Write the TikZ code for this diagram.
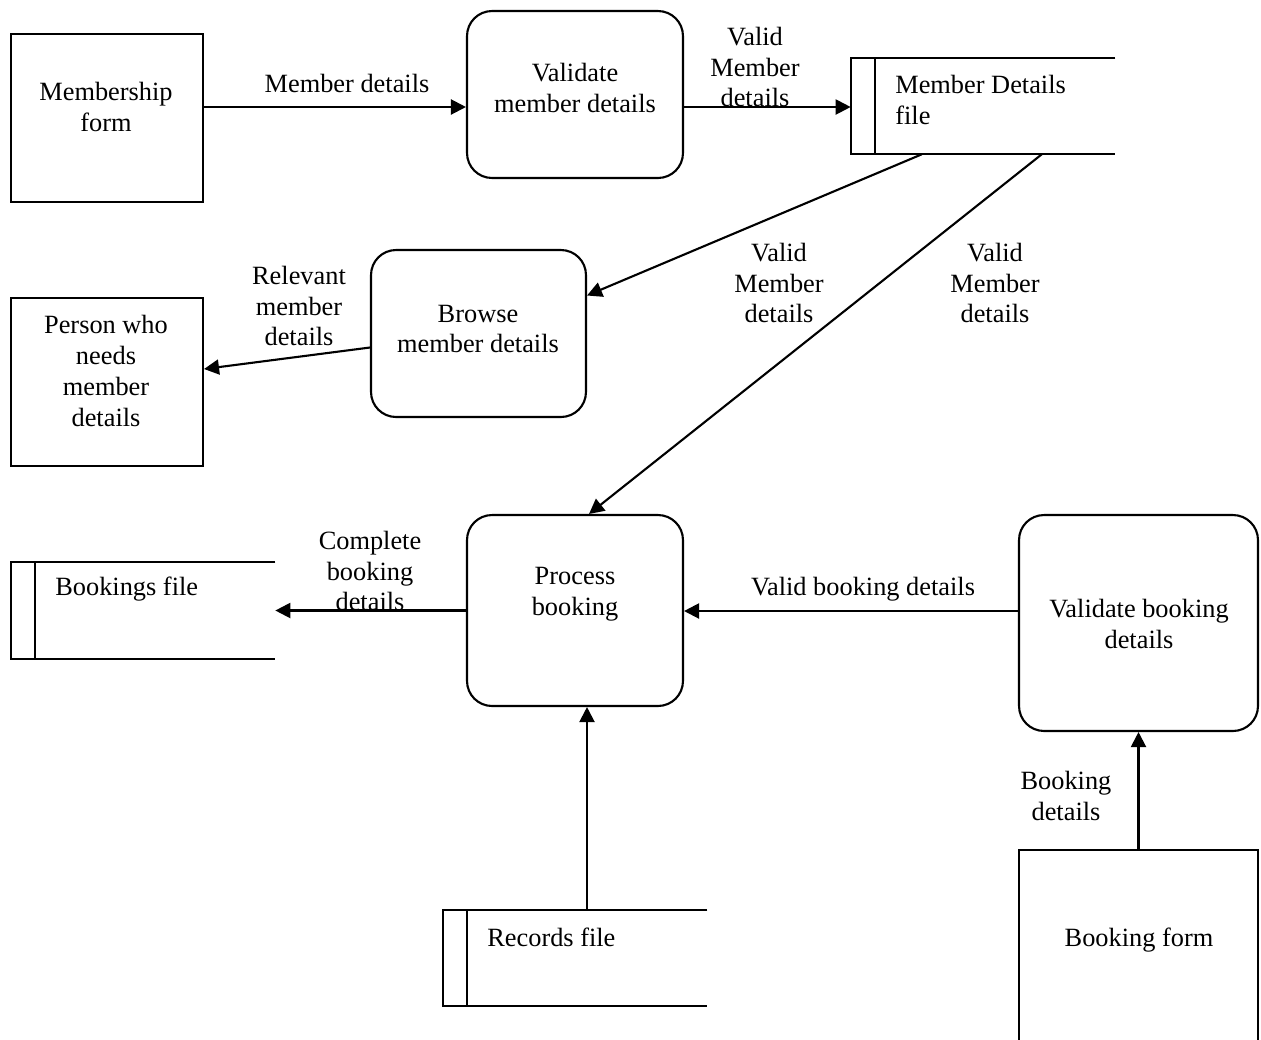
\documentclass[tikz,border=0pt]{standalone}
\usepackage{fontspec}
\setmainfont{Liberation Serif}
\usetikzlibrary{arrows.meta,calc}
\tikzset{
  ln/.style={line width=1.2pt},
  flow/.style={ln,-{Triangle[length=0.3cm,width=0.3cm]}},
  entity/.style={draw,ln,rectangle,inner sep=0pt},
  proc/.style={draw,ln,rectangle,rounded corners=0.5cm,inner sep=0pt},
  store/.style={rectangle,inner sep=0pt,minimum width=5.28cm,minimum height=1.92cm},
  txt/.style={inner sep=0pt,align=center,font=\fontsize{15}{17.6}\selectfont},
  ltxt/.style={txt,align=left,anchor=west},
}
\begin{document}
\begin{tikzpicture}[x=0.02cm,y=-0.02cm]
\clip (0,0) rectangle (1261,1039);
\fill[white] (0,0) rectangle (1261,1039);
% entities and processes
\node[entity,minimum width=3.84cm,minimum height=3.36cm] (mform) at (107,118) {};
\node[proc,minimum width=4.32cm,minimum height=3.34cm] (vmd) at (575,94.5) {};
\node[proc,minimum width=4.30cm,minimum height=3.34cm] (bmd) at (478.5,333.5) {};
\node[entity,minimum width=3.84cm,minimum height=3.36cm] (person) at (107,382) {};
\node[proc,minimum width=4.32cm,minimum height=3.82cm] (pb) at (575,610.5) {};
\node[proc,minimum width=4.78cm,minimum height=4.32cm] (vbd) at (1138.5,623) {};
\node[entity,minimum width=4.78cm,minimum height=4.2cm] (bform) at (1138.5,955) {};
% data stores
\node[store] (mdf) at (983,106) {};
\node[store] (bkf) at (143,610.5) {};
\node[store] (rcf) at (575,958) {};
\foreach \s in {mdf,bkf,rcf}{
  \draw[ln] (\s.north east) -- (\s.north west) -- (\s.south west) -- (\s.south east);
  \draw[ln] ($(\s.north west)+(24,0)$) -- ($(\s.south west)+(24,0)$);
}
% texts in shapes
\node[txt] (tmform) at (106,107) {Membership\\form};
\node[txt] (tvmd) at (575,88) {Validate\\member details};
\node[ltxt] (tmdf) at (895,100) {Member Details\\file};
\node[txt] (tbmd) at (478,329) {Browse\\member details};
\node[txt] (tperson) at (106,371) {Person who\\needs\\member\\details};
\node[txt] (tpb) at (575,594) {Process\\booking};
\node[ltxt] (tbkf) at (55,589) {Bookings file};
\node[txt] (tvbd) at (1139,624) {Validate booking\\details};
\node[ltxt] (trcf) at (487,937) {Records file};
\node[txt] (tbform) at (1139,940) {Booking form};
% connectors
\coordinate (a1) at ($(mform.east)+(0,-11)$);
\draw[flow] (a1) -- (a1 -| vmd.west);
\coordinate (a2) at ($(vmd.east)+(0,12.5)$);
\draw[flow] (a2) -- (a2 -| mdf.west);
\draw[flow] ($(mdf.south west)+(71,0)$) -- ($(bmd.east)+(0,-38)$);
\draw[flow] ($(mdf.south west)+(191,0)$) -- ($(pb.north)+(14,0)$);
\draw[flow] ($(bmd.west)+(0,14)$) -- ($(person.east)+(0,-13)$);
\coordinate (a3) at (pb.west);
\draw[flow] (a3) -- (a3 -| bkf.east);
\coordinate (a4) at ($(vbd.west)+(0,-12)$);
\draw[flow] (a4) -- (a4 -| pb.east);
\coordinate (a5) at ($(rcf.north)+(12,0)$);
\draw[flow] (a5) -- (a5 |- pb.south);
\draw[flow] (bform.north) -- (vbd.south);
% connector labels
\node[txt] (l1) at (347,83) {Member details};
\node[txt] (l2) at (755,67) {Valid\\Member\\details};
\node[txt] (l3) at (779,283) {Valid\\Member\\details};
\node[txt] (l4) at (995,283) {Valid\\Member\\details};
\node[txt] (l5) at (299,306) {Relevant\\member\\details};
\node[txt] (l6) at (370,571) {Complete\\booking\\details};
\node[txt] (l7) at (863,589) {Valid booking details};
\node[txt] (l8) at (1066,796) {Booking\\details};
\end{tikzpicture}
\end{document}
